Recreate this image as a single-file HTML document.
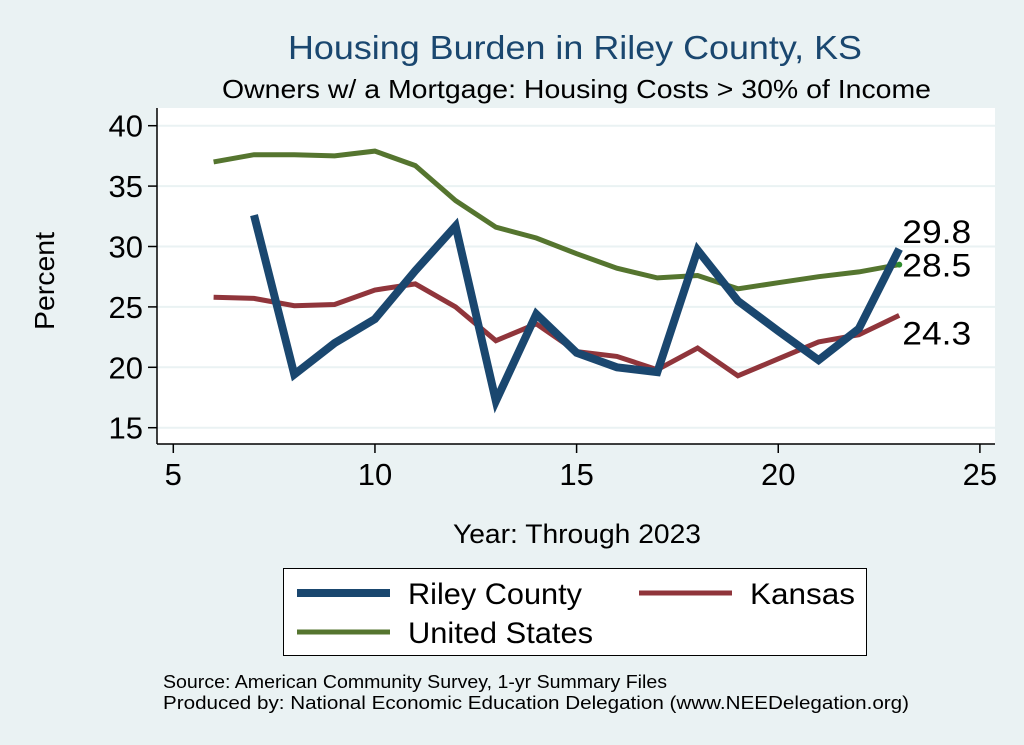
<!DOCTYPE html>
<html><head><meta charset="utf-8"><style>
body{margin:0;background:#eaf2f3;}
svg{display:block;font-family:"Liberation Sans",sans-serif;}
</style></head><body>
<svg width="1024" height="745" viewBox="0 0 1024 745" id="c">
<rect x="0" y="0" width="1024" height="745" fill="#eaf2f3"/>
<text x="288" y="59" font-size="33" textLength="574" lengthAdjust="spacingAndGlyphs" fill="#1a476f">Housing Burden in Riley County, KS</text>
<text x="222" y="98" font-size="26" textLength="709" lengthAdjust="spacingAndGlyphs" fill="#000">Owners w/ a Mortgage: Housing Costs &gt; 30% of Income</text>
<rect x="157" y="108" width="838" height="336" fill="#fff"/>
<g id="grid"></g>
<g id="axes"></g>
<g id="series"></g>
<text x="0" y="0" font-size="28" textLength="98" lengthAdjust="spacingAndGlyphs" transform="translate(54 330) rotate(-90)">Percent</text>
<text x="453" y="543" font-size="27" textLength="248" lengthAdjust="spacingAndGlyphs">Year: Through 2023</text>
<g>
<rect x="283.5" y="568.5" width="583" height="87" fill="#fff" stroke="#000" stroke-width="1"/>
<line x1="297" y1="593" x2="390" y2="593" stroke="#1a476f" stroke-width="8"/>
<text x="408" y="604" font-size="30" textLength="174" lengthAdjust="spacingAndGlyphs">Riley County</text>
<line x1="639" y1="593" x2="732" y2="593" stroke="#90353b" stroke-width="5"/>
<text x="750" y="604" font-size="30" textLength="105" lengthAdjust="spacingAndGlyphs">Kansas</text>
<line x1="297" y1="632" x2="390" y2="632" stroke="#55752f" stroke-width="5"/>
<text x="408" y="643" font-size="30" textLength="185" lengthAdjust="spacingAndGlyphs">United States</text>
</g>
<text x="163" y="688" font-size="18" textLength="504" lengthAdjust="spacingAndGlyphs">Source: American Community Survey, 1-yr Summary Files</text>
<text x="163" y="709" font-size="18" textLength="746" lengthAdjust="spacingAndGlyphs">Produced by: National Economic Education Delegation (www.NEEDelegation.org)</text>
</svg>
<script>
const years=[6,7,8,9,10,11,12,13,14,15,16,17,18,19,20,21,22,23];
const riley=[null,32.6,19.4,22,24,28,31.7,17.2,24.4,21.2,20,19.6,29.7,25.5,23,20.6,23.2,29.8];
const kansas=[25.8,25.7,25.1,25.2,26.4,26.9,25,22.2,23.6,21.3,20.9,19.8,21.6,19.3,20.7,22.1,22.7,24.3];
const us=[37,37.6,37.6,37.5,37.9,36.7,33.8,31.6,30.7,29.4,28.2,27.4,27.6,26.5,27,27.5,27.9,28.5];
const xTicks=[5,10,15,20,25];
const yTicks=[15,20,25,30,35,40];
const NS="http://www.w3.org/2000/svg";
const xs=v=>173.3+(v-5)*40.33;
const ys=v=>427.7-(v-15)*12.08;
function mk(t,a,p){const e=document.createElementNS(NS,t);for(const k in a)e.setAttribute(k,a[k]);p.appendChild(e);return e;}
const grid=document.getElementById('grid'),axes=document.getElementById('axes'),ser=document.getElementById('series');
yTicks.forEach(v=>{
 const g=mk('line',{x1:157,x2:995,y1:ys(v),y2:ys(v),stroke:'#eaf2f3','stroke-width':2},grid);
 
 
 const t=mk('line',{x1:148,x2:157,y1:ys(v),y2:ys(v),stroke:'#000','stroke-width':1.5},axes);
 
 
 const l=mk('text',{x:143,y:ys(v)+11,'font-size':31,'text-anchor':'end'},axes);l.textContent=v;
 
 
});
xTicks.forEach(v=>{
 const t=mk('line',{x1:xs(v),x2:xs(v),y1:444,y2:453,stroke:'#000','stroke-width':1.5},axes);
 
 
 const l=mk('text',{x:xs(v),y:485,'font-size':31,'text-anchor':'middle'},axes);l.textContent=v;
 
 
});
const ya=mk('line',{x1:157,x2:157,y1:108,y2:444,stroke:'#000','stroke-width':1.5},axes);


const xa=mk('line',{x1:157,x2:995,y1:444,y2:444,stroke:'#000','stroke-width':1.5},axes);


function line(vals,col,w,name){
 let d='';let first=true;
 vals.forEach((v,i)=>{if(v==null)return;d+=(first?'M':'L')+xs(years[i]).toFixed(1)+','+ys(v).toFixed(1);first=false;});
 const p=mk('path',{d:d,fill:'none',stroke:col,'stroke-width':w,'stroke-linejoin':'miter'},ser);
 
 
}
line(us,'#55752f',5,'line-united-states');
line(kansas,'#90353b',5,'line-kansas');
line(riley,'#1a476f',8,'line-riley-county');
const last=years.length-1;
const dot=mk('circle',{cx:xs(years[last]),cy:ys(us[last]),r:3,fill:'#2e8b2e'},ser);


[[riley,-6,'label-riley-end'],[us,12,'label-us-end'],[kansas,29,'label-kansas-end']].forEach(([a,dy,n])=>{
 const t=mk('text',{x:xs(years[last])+3,y:ys(a[last])+dy,'font-size':32,textLength:69,lengthAdjust:'spacingAndGlyphs'},ser);
 t.textContent=a[last].toFixed(1);
 
 
});
</script>
</body></html>
